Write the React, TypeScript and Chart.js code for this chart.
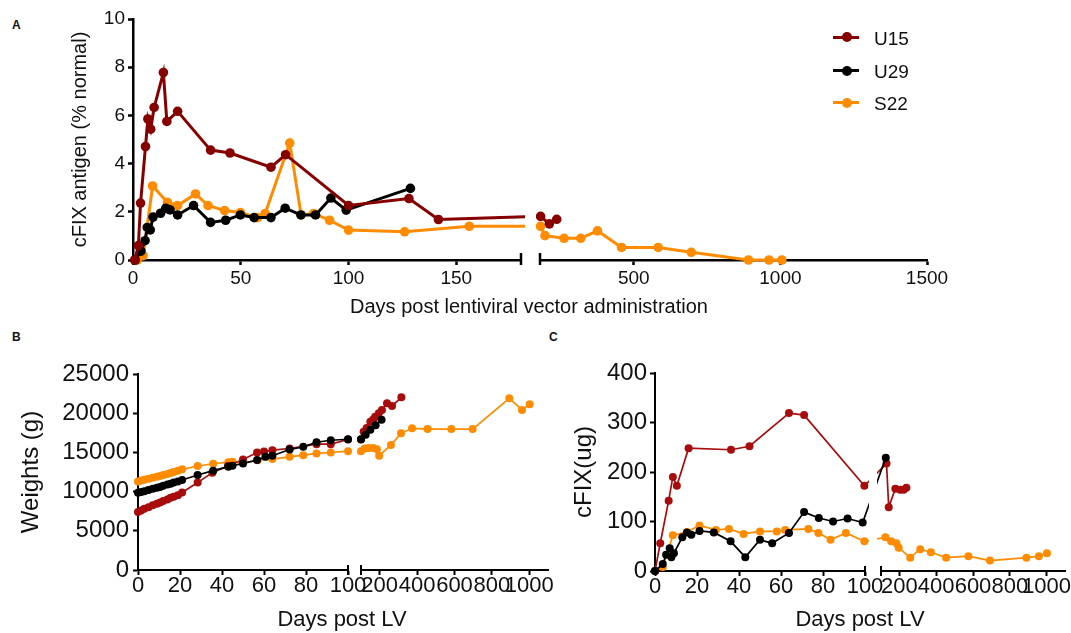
import React, { useEffect, useRef } from 'react';
import { Chart, registerables } from 'chart.js';

Chart.register(...registerables);

const FONT = "'Liberation Sans', Arial, Helvetica, sans-serif";

// ---------------- Series names ----------------
const SERIES_NAMES = ['U15', 'U29', 'S22'];

// ---------------- Panel A: cFIX antigen (% normal) ----------------
const A_U15_DAYS = [0.8, 2.5, 3.5, 5.8, 6.9, 8.2, 9.8, 14.1, 15.7, 20.7, 36, 45, 64, 70.8, 100, 128, 141.7, 182, 212, 237];
const A_U15_VALS = [0, 0.6, 2.36, 4.71, 5.85, 5.43, 6.33, 7.78, 5.75, 6.17, 4.56, 4.44, 3.85, 4.37, 2.26, 2.55, 1.68, 1.81, 1.5, 1.69];

const A_U29_DAYS = [1, 3.7, 5.6, 6.6, 8, 9.3, 12.8, 15.2, 17.2, 20.7, 28.1, 36, 43, 49.8, 56.2, 64, 70.6, 77.9, 84.7, 91.8, 98.9, 128.7];
const A_U29_VALS = [0, 0.37, 0.8, 1.35, 1.25, 1.78, 1.94, 2.15, 2.08, 1.87, 2.26, 1.56, 1.65, 1.87, 1.76, 1.76, 2.15, 1.87, 1.87, 2.57, 2.07, 2.97];

const A_S22_DAYS = [2, 4.7, 9.1, 16, 20.7, 29, 34.8, 42.5, 49.8, 57.8, 61.3, 72.7, 78, 83.8, 91.2, 100, 126, 156, 182, 197, 262, 319, 376, 458, 583, 696, 891, 961, 1005];
const A_S22_VALS = [0, 0.18, 3.07, 2.39, 2.26, 2.74, 2.26, 2.05, 1.97, 1.76, 1.93, 4.85, 1.87, 1.93, 1.65, 1.24, 1.17, 1.4, 1.4, 1.01, 0.9, 0.9, 1.21, 0.52, 0.52, 0.32, 0, 0, 0];

// ---------------- Panel B: Weights (g) ----------------
const B_U15_DAYS = [0, 1.5, 3, 5, 7, 9, 10.5, 12, 14, 15.5, 17, 19, 21, 28.4, 35.4, 42.8, 50, 56.7, 60, 64, 72.2, 85, 91.8, 100, 114, 130, 150, 165, 176, 195, 212, 239, 266, 316];
const B_U15_VALS = [7400, 7600, 7800, 8000, 8250, 8450, 8600, 8800, 9000, 9200, 9350, 9550, 9880, 11150, 12415, 13260, 14100, 14990, 15100, 15290, 15500, 16050, 16050, 16640, 17640, 18100, 18900, 19200, 19550, 20000, 20410, 21260, 20920, 22030];

const B_U29_DAYS = [0, 1.5, 3, 5, 7, 9, 10.5, 12, 14, 15.5, 17, 19, 21, 28.4, 35.8, 43, 45, 50, 56.7, 60.7, 64, 72.2, 78.7, 85, 91.8, 100, 125, 150, 178, 210];
const B_U29_VALS = [9850, 9950, 10050, 10200, 10350, 10500, 10600, 10750, 10900, 11000, 11150, 11300, 11480, 12120, 12670, 13180, 13300, 13600, 14020, 14440, 14570, 15370, 15710, 16300, 16550, 16680, 17250, 17900, 18450, 19150];

const B_S22_DAYS = [0, 1.5, 3, 5, 7, 9, 10.5, 12, 14, 15.5, 17, 19, 21, 28.4, 35.8, 43, 45, 50, 57, 64, 72.2, 78.7, 85, 91.8, 100, 120, 140, 165, 185, 197, 260, 314, 373, 456, 583, 697, 893, 961, 1002];
const B_S22_VALS = [11300, 11420, 11520, 11650, 11780, 11900, 12000, 12120, 12250, 12380, 12500, 12650, 12840, 13265, 13550, 13750, 13800, 13650, 14000, 14150, 14440, 14650, 14865, 14990, 15160, 15500, 15550, 15550, 15400, 14580, 15940, 17430, 18070, 17980, 17980, 17980, 21900, 20410, 21130];

// ---------------- Panel C: cFIX (ug) ----------------
const C_U15_DAYS = [0, 2.5, 6.5, 8.5, 10.4, 16, 36.2, 45, 63.8, 71, 99.7, 130, 142, 178, 205, 223, 238];
const C_U15_VALS = [0, 56, 142, 190, 172, 248, 245, 252, 319, 315, 172, 217, 129, 166, 164, 164, 168];

const C_U29_DAYS = [0, 3.7, 5.3, 7, 7.8, 9, 13, 15.2, 17.3, 21.2, 28, 36, 43, 50, 55.8, 63.8, 71, 78, 84.8, 91.7, 98.9, 126];
const C_U29_VALS = [0, 14, 33, 46, 28, 36, 68, 78, 73, 81, 78, 60, 28, 63, 56, 77, 119, 107, 100, 106, 98, 229];

const C_S22_DAYS = [0, 3.7, 8.5, 15.2, 21.2, 29, 35.2, 42.2, 50, 58, 62, 73, 77.8, 83.6, 90.9, 99.7, 124, 155, 184, 196, 259, 313, 371, 454, 575, 692, 890, 958, 1002];
const C_S22_VALS = [0, 8, 72, 79, 92, 83, 85, 75, 80, 80, 83, 85, 77, 63, 77, 60, 68, 60, 56, 47, 27, 44, 38, 27, 30, 21, 27, 30, 36];

// ---------------- Axis ranges & tick labels ----------------
const A_X_LEFT_RANGE = [0, 180];
const A_X_RIGHT_RANGE = [180, 1500];
const BC_X_LEFT_RANGE = [0, 100];
const BC_X_RIGHT_RANGE = [100, 1100];
const A_X_TICKS_LEFT = [0, 50, 100, 150];
const A_X_TICKS_RIGHT = [500, 1000, 1500];
const BC_X_TICKS_LEFT = [0, 20, 40, 60, 80, 100];
const BC_X_TICKS_RIGHT = [200, 400, 600, 800, 1000];
const A_Y_TICKS = [0, 2, 4, 6, 8, 10];
const B_Y_TICKS = [0, 5000, 10000, 15000, 20000, 25000];
const C_Y_TICKS = [0, 100, 200, 300, 400];

// ---------------- Styles ----------------
const A_COLORS = ['#870000', '#000000', '#ff8c00'];
const BC_COLORS = ['#a80d0d', '#000000', '#ff8c00'];
const TEXT = '#111';

type Series = { name: string; days: number[]; vals: number[]; color: string };

const A_SERIES: Series[] = [
  { name: SERIES_NAMES[0], days: A_U15_DAYS, vals: A_U15_VALS, color: A_COLORS[0] },
  { name: SERIES_NAMES[1], days: A_U29_DAYS, vals: A_U29_VALS, color: A_COLORS[1] },
  { name: SERIES_NAMES[2], days: A_S22_DAYS, vals: A_S22_VALS, color: A_COLORS[2] },
];
const B_SERIES: Series[] = [
  { name: SERIES_NAMES[1], days: B_U29_DAYS, vals: B_U29_VALS, color: BC_COLORS[1] },
  { name: SERIES_NAMES[0], days: B_U15_DAYS, vals: B_U15_VALS, color: BC_COLORS[0] },
  { name: SERIES_NAMES[2], days: B_S22_DAYS, vals: B_S22_VALS, color: BC_COLORS[2] },
];
const C_SERIES: Series[] = [
  { name: SERIES_NAMES[1], days: C_U29_DAYS, vals: C_U29_VALS, color: BC_COLORS[1] },
  { name: SERIES_NAMES[0], days: C_U15_DAYS, vals: C_U15_VALS, color: BC_COLORS[0] },
  { name: SERIES_NAMES[2], days: C_S22_DAYS, vals: C_S22_VALS, color: BC_COLORS[2] },
];

interface SegSpec {
  series: Series[];
  xRange: number[]; xTicks: number[];
  yMin: number; yMax: number; yTicks: number[];
  x0: number; x1: number; y0: number; y1: number;
  ml: number; mr: number; mt: number; mb: number;
  showY: boolean; yTitle?: string; yTitleSize?: number; yTitlePad?: number;
  xTickSize: number; yTickSize: number; xTickPad: number; yTickPad: number;
  tickLen: number; axisW: number; lineW: number; pointR: number;
  breakSide: 'left' | 'right'; breakUp: number; breakDown: number;
  partner: number;
}

const A_COMMON = {
  series: A_SERIES, yMin: 0, yMax: 10, yTicks: A_Y_TICKS, y0: 19, y1: 260, mt: 12, mb: 40,
  xTickSize: 19, yTickSize: 19, xTickPad: 4, yTickPad: 3, tickLen: 5, axisW: 2.5, lineW: 3, pointR: 4.8,
  breakUp: 7, breakDown: 5,
};
const B_COMMON = {
  series: B_SERIES, yMin: 0, yMax: 25000, yTicks: B_Y_TICKS, y0: 374, y1: 570, mt: 16, mb: 40,
  xTickSize: 22, yTickSize: 24, xTickPad: 0, yTickPad: 4, tickLen: 5, axisW: 2, lineW: 1.7, pointR: 4,
  breakUp: 5, breakDown: 5,
};
const C_COMMON = {
  series: C_SERIES, yMin: 0, yMax: 400, yTicks: C_Y_TICKS, y0: 373, y1: 571, mt: 16, mb: 40,
  xTickSize: 22, yTickSize: 24, xTickPad: 0, yTickPad: 3, tickLen: 5, axisW: 2, lineW: 1.7, pointR: 4,
  breakUp: 5, breakDown: 5,
};

const SEGMENTS: SegSpec[] = [
  { ...A_COMMON, xRange: A_X_LEFT_RANGE, xTicks: A_X_TICKS_LEFT, x0: 133, x1: 521, ml: 78, mr: 25, showY: true,
    yTitle: 'cFIX antigen (% normal)', yTitleSize: 20, yTitlePad: 13, breakSide: 'right', partner: 1 },
  { ...A_COMMON, xRange: A_X_RIGHT_RANGE, xTicks: A_X_TICKS_RIGHT, x0: 540, x1: 927, ml: 20, mr: 30, showY: false,
    breakSide: 'left', partner: 0 },
  { ...B_COMMON, xRange: BC_X_LEFT_RANGE, xTicks: BC_X_TICKS_LEFT, x0: 138, x1: 348, ml: 128, mr: 25, showY: true,
    yTitle: 'Weights (g)', yTitleSize: 24, yTitlePad: 7, breakSide: 'right', partner: 3 },
  { ...B_COMMON, xRange: BC_X_RIGHT_RANGE, xTicks: BC_X_TICKS_RIGHT, x0: 361, x1: 548, ml: 12, mr: 10, showY: false,
    breakSide: 'left', partner: 2 },
  { ...C_COMMON, xRange: BC_X_LEFT_RANGE, xTicks: BC_X_TICKS_LEFT, x0: 655, x1: 865, ml: 95, mr: 25, showY: true,
    yTitle: 'cFIX(ug)', yTitleSize: 24, yTitlePad: 10, breakSide: 'right', partner: 5 },
  { ...C_COMMON, xRange: BC_X_RIGHT_RANGE, xTicks: BC_X_TICKS_RIGHT, x0: 881, x1: 1065, ml: 12, mr: 6, showY: false,
    breakSide: 'left', partner: 4 },
];

function geom(s: SegSpec) {
  return {
    left: s.x0 - s.ml,
    top: s.y0 - s.mt,
    w: s.x1 - s.x0 + s.ml + s.mr,
    h: s.y1 - s.y0 + s.mt + s.mb,
  };
}

// Broken-axis mapping: a day that belongs to the partner segment is expressed in this
// segment's value space, so that connecting lines cross the gap as on a single page.
function pageX(s: SegSpec, d: number) {
  return s.x0 + ((d - s.xRange[0]) * (s.x1 - s.x0)) / (s.xRange[1] - s.xRange[0]);
}
function valueAtPage(s: SegSpec, px: number) {
  return s.xRange[0] + ((px - s.x0) * (s.xRange[1] - s.xRange[0])) / (s.x1 - s.x0);
}

const breakPlugin = {
  id: 'axisBreak',
  afterDraw(chart: any, _args: any, opts: any) {
    if (!opts || !opts.side) return;
    const { ctx, chartArea } = chart;
    const x = opts.side === 'left' ? chartArea.left : chartArea.right;
    ctx.save();
    ctx.strokeStyle = '#000';
    ctx.lineWidth = opts.width;
    ctx.beginPath();
    ctx.moveTo(x, chartArea.bottom - opts.up);
    ctx.lineTo(x, chartArea.bottom + opts.down);
    ctx.stroke();
    ctx.restore();
  },
};

function buildChart(canvas: HTMLCanvasElement, s: SegSpec) {
  const [xMin, xMax] = s.xRange;
  const partner = SEGMENTS[s.partner];
  const inRange = (x: number) => x >= xMin && x <= xMax;
  const isLeftSeg = s.breakSide === 'right';
  const clip = isLeftSeg
    ? { left: 12, right: 4, top: 12, bottom: 12 }
    : { left: 4, right: 12, top: 12, bottom: 12 };
  const datasets = s.series.map((se) => ({
    label: se.name,
    data: se.days.map((d, i) => ({
      x: inRange(d) ? d : valueAtPage(s, pageX(partner, d)),
      y: se.vals[i],
      own: inRange(d),
    })),
    borderColor: se.color,
    backgroundColor: se.color,
    pointBackgroundColor: se.color,
    pointBorderColor: se.color,
    pointBorderWidth: 0,
    borderWidth: s.lineW,
    pointRadius: (ctx: any) => (ctx.raw && ctx.raw.own ? s.pointR : 0),
    pointHoverRadius: 0,
    tension: 0,
    clip,
  }));
  const tickFont = (size: number) => ({ family: FONT, size, lineHeight: 1 });
  const grid = {
    display: true, drawOnChartArea: false, drawTicks: true,
    tickLength: s.tickLen, tickWidth: s.axisW, tickColor: '#000',
  };
  const border = { display: true, color: '#000', width: s.axisW };
  return new Chart(canvas, {
    type: 'line',
    data: { datasets },
    plugins: [breakPlugin],
    options: {
      animation: false,
      responsive: false,
      maintainAspectRatio: false,
      events: [],
      layout: {
        autoPadding: false,
        padding: { left: s.showY ? 0 : s.ml, right: s.mr, top: s.mt, bottom: 0 },
      },
      plugins: {
        legend: { display: false },
        tooltip: { enabled: false },
        axisBreak: { side: s.breakSide, width: s.axisW, up: s.breakUp, down: s.breakDown },
      },
      scales: {
        x: {
          type: 'linear', position: 'bottom', min: xMin, max: xMax,
          afterBuildTicks: (sc: any) => { sc.ticks = s.xTicks.map((v) => ({ value: v })); },
          afterFit: (sc: any) => { sc.height = s.mb; sc.paddingLeft = 0; sc.paddingRight = 0; },
          border, grid,
          ticks: {
            autoSkip: false, maxRotation: 0, minRotation: 0, padding: s.xTickPad,
            color: TEXT, font: tickFont(s.xTickSize), callback: (v: any) => String(v),
          },
          title: { display: false },
        },
        y: {
          type: 'linear', position: 'left', display: s.showY, min: s.yMin, max: s.yMax,
          afterBuildTicks: (sc: any) => { sc.ticks = s.yTicks.map((v) => ({ value: v })); },
          afterFit: (sc: any) => { sc.width = s.showY ? s.ml : 0; sc.paddingTop = 0; sc.paddingBottom = 0; },
          border, grid,
          ticks: {
            autoSkip: false, padding: s.yTickPad, color: TEXT,
            font: tickFont(s.yTickSize), callback: (v: any) => String(v),
          },
          title: s.yTitle
            ? {
                display: true, text: s.yTitle, color: TEXT,
                font: { family: FONT, size: s.yTitleSize },
                padding: { top: s.yTitlePad, bottom: 0 },
              }
            : { display: false },
        },
      },
    },
  } as any);
}

const LEGEND_ROWS_Y = [37, 70.5, 102.5];

function CenterText(props: { text: string; cx: number; top: number; size: number; weight?: number }) {
  return (
    <div
      style={{
        position: 'absolute', left: props.cx - 300, width: 600, top: props.top,
        textAlign: 'center', fontSize: props.size, lineHeight: `${props.size}px`,
        fontWeight: props.weight || 400, whiteSpace: 'nowrap', color: TEXT,
      }}
    >
      {props.text}
    </div>
  );
}

export default function App() {
  const refs = useRef<(HTMLCanvasElement | null)[]>([]);

  useEffect(() => {
    const charts = SEGMENTS.map((s, i) => buildChart(refs.current[i] as HTMLCanvasElement, s));
    return () => charts.forEach((c) => c.destroy());
  }, []);

  return (
    <div
      style={{
        position: 'absolute', left: 0, top: 0, width: 1071, height: 633,
        overflow: 'hidden', background: '#fff', fontFamily: FONT, color: TEXT,
      }}
    >
      {SEGMENTS.map((s, i) => {
        const g = geom(s);
        return (
          <canvas
            key={i}
            ref={(el) => { refs.current[i] = el; }}
            width={g.w}
            height={g.h}
            style={{ position: 'absolute', left: g.left, top: g.top, width: g.w, height: g.h }}
          />
        );
      })}

      {/* Panel letters */}
      <div style={{ position: 'absolute', left: 12, top: 19, fontSize: 12, lineHeight: '12px', fontWeight: 700 }}>A</div>
      <div style={{ position: 'absolute', left: 12, top: 331, fontSize: 12, lineHeight: '12px', fontWeight: 700 }}>B</div>
      <div style={{ position: 'absolute', left: 549, top: 331, fontSize: 12, lineHeight: '12px', fontWeight: 700 }}>C</div>

      {/* X axis titles spanning both axis segments */}
      <CenterText text="Days post lentiviral vector administration" cx={529} top={296} size={20} />
      <CenterText text="Days post LV" cx={342} top={608} size={22} />
      <CenterText text="Days post LV" cx={860} top={608} size={22} />

      {/* Legend for panel A */}
      {SERIES_NAMES.map((name, i) => {
        const y = LEGEND_ROWS_Y[i];
        const color = A_COLORS[i];
        return (
          <React.Fragment key={name}>
            <div style={{ position: 'absolute', left: 833, top: y - 1.5, width: 26, height: 3, background: color }} />
            <div style={{ position: 'absolute', left: 841.5, top: y - 5, width: 10, height: 10, borderRadius: '50%', background: color }} />
            <div style={{ position: 'absolute', left: 874, top: y - 8.3, fontSize: 19, lineHeight: '19px', whiteSpace: 'nowrap' }}>{name}</div>
          </React.Fragment>
        );
      })}
    </div>
  );
}
